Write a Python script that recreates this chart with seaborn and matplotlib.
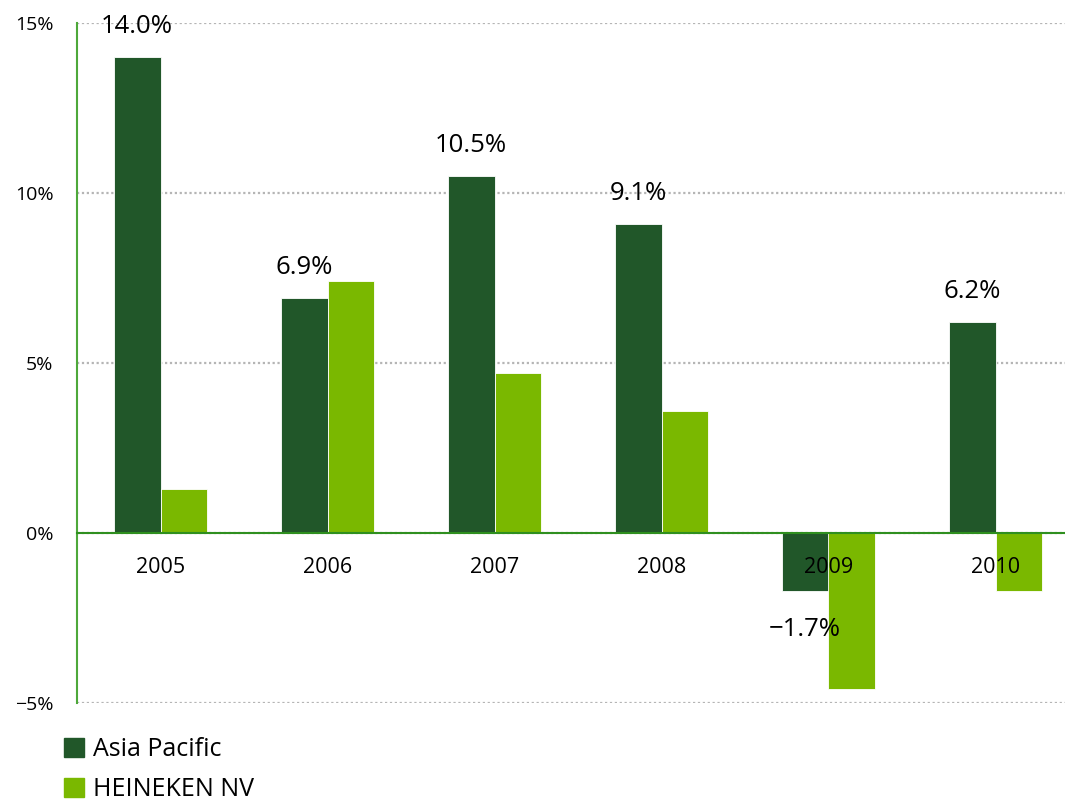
import pandas as pd
import matplotlib.pyplot as plt
import seaborn as sns
from matplotlib.patches import Patch

years = ["2005", "2006", "2007", "2008", "2009", "2010"]
asiaPacific = [14.0, 6.9, 10.5, 9.1, -1.7, 6.2]
heineken = [1.3, 7.4, 4.7, 3.6, -4.6, -1.7]
seriesNames = ["Asia Pacific", "HEINEKEN NV"]
colors = ["#215729", "#7ab800"]
yTicks = [-5, 0, 5, 10, 15]
yTickLabels = ["\u22125%", "0%", "5%", "10%", "15%"]

sns.set_style("white")
plt.rcParams['font.family'] = ['Open Sans', 'DejaVu Sans']
plt.rcParams['text.color'] = "black"
plt.rcParams['xtick.color'] = "black"
plt.rcParams['ytick.color'] = "black"

df = pd.DataFrame({
    "year": years * 2,
    "growth": asiaPacific + heineken,
    "series": [seriesNames[0]] * len(years) + [seriesNames[1]] * len(years),
})

fig = plt.figure(figsize=(10.65, 8.02), dpi=100)
ax = fig.add_axes([77 / 1065, 99 / 802, 1002 / 1065, 680 / 802])
sns.barplot(data=df, x="year", y="growth", hue="series", palette=colors,
            width=0.56, saturation=1, edgecolor="white", linewidth=0.6,
            legend=False, ax=ax)

ax.set_xlim(-0.5, 5.5)
ax.set_ylim(-5, 15)
ax.set_yticks(yTicks)
ax.set_yticklabels(yTickLabels)
ax.set_xlabel("")
ax.set_ylabel("")
ax.grid(axis="y", color="#b5b5b5", linestyle=(0, (1, 1.2)), linewidth=1.6)
ax.grid(axis="x", visible=False)
ax.set_axisbelow(True)
# year labels sit on top of the bars, like in the original
ax.xaxis.set_zorder(5)

for side in ["top", "right"]:
    ax.spines[side].set_visible(False)
ax.spines["left"].set_color("#4ea83a")
ax.spines["left"].set_linewidth(1.5)
ax.spines["bottom"].set_position(("data", 0))
ax.spines["bottom"].set_color("#2f8f1f")
ax.spines["bottom"].set_linewidth(1.5)

ax.tick_params(axis="y", length=0, pad=17, labelsize=14)
ax.tick_params(axis="x", length=0, pad=17, labelsize=15.5)

posLabels = [f"{v:.1f}%" if v >= 0 else "" for v in asiaPacific]
negLabels = [f"{v:.1f}%".replace("-", "\u2212") if v < 0 else "" for v in asiaPacific]
ax.bar_label(ax.containers[0], labels=posLabels, padding=13, fontsize=18.5)
ax.bar_label(ax.containers[0], labels=negLabels, padding=19, fontsize=18.5)

handles = [Patch(color=c, label=n) for c, n in zip(colors, seriesNames)]
fig.legend(handles=handles, loc="upper left", bbox_to_anchor=(64 / 1065, 1 - 737 / 802),
           frameon=False, fontsize=18, handlelength=0.8, handleheight=0.8,
           handletextpad=0.35, labelspacing=0.6, borderpad=0, borderaxespad=0)

fig.savefig("out.png", dpi=100)
